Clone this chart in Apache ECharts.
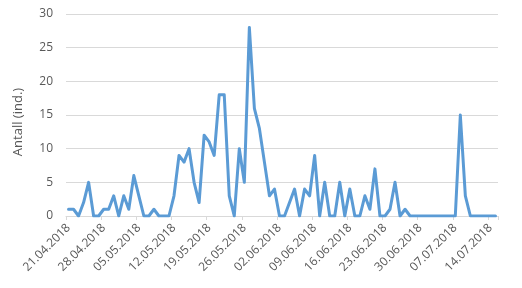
<!DOCTYPE html>
<html>
<head>
<meta charset="utf-8">
<script src="https://cdn.jsdelivr.net/npm/echarts@6/dist/echarts.min.js"></script>
<style>html,body{margin:0;padding:0;background:#fff}#c{width:522px;height:288px}</style>
</head>
<body>
<div id="c"></div>
<script>
// Categories: consecutive days starting 21.04.2018
const startDate = [2018, 3, 21];
const dayCount = 86;
const categories = [];
for (let i = 0; i < dayCount; i++) {
  const d = new Date(Date.UTC(startDate[0], startDate[1], startDate[2] + i));
  const dd = String(d.getUTCDate()).padStart(2, '0');
  const mm = String(d.getUTCMonth() + 1).padStart(2, '0');
  categories.push(dd + '.' + mm + '.' + d.getUTCFullYear());
}
// Antall (ind.) per day
const counts = [
  1, 1, 0, 2, 5, 0, 0, 1, 1, 3,
  0, 3, 1, 6, 3, 0, 0, 1, 0, 0,
  0, 3, 9, 8, 10, 5, 2, 12, 11, 9,
  18, 18, 3, 0, 10, 5, 28, 16, 13, 8,
  3, 4, 0, 0, 2, 4, 0, 4, 3, 9,
  0, 5, 0, 0, 5, 0, 4, 0, 0, 3,
  1, 7, 0, 0, 1, 5, 0, 1, 0, 0,
  0, 0, 0, 0, 0, 0, 0, 0, 15, 3,
  0, 0, 0, 0, 0, 0
];
const yTicks = { min: 0, max: 30, interval: 5 };
const yName = 'Antall (ind.)';

const font = '"Open Sans", "Liberation Sans", sans-serif';
const chart = echarts.init(document.getElementById('c'), null, { renderer: 'canvas' });
chart.setOption({
  animation: false,
  backgroundColor: '#ffffff',
  grid: { left: 66, top: 14, width: 432, height: 202, containLabel: false },
  xAxis: {
    type: 'category',
    data: categories,
    boundaryGap: true,
    axisLine: { show: true, lineStyle: { color: '#d9d9d9', width: 1 } },
    axisTick: { show: true, interval: 6, length: 4, lineStyle: { color: '#d9d9d9' } },
    axisLabel: { interval: 6, rotate: 45, margin: 10, color: '#595959', fontSize: 12, fontFamily: font },
    splitLine: { show: false }
  },
  yAxis: {
    type: 'value',
    min: yTicks.min, max: yTicks.max, interval: yTicks.interval,
    name: yName,
    nameLocation: 'middle',
    nameRotate: 90,
    nameGap: 41,
    nameTextStyle: { color: '#595959', fontSize: 13, fontFamily: font, padding: [0, 14, 0, 0] },
    axisLine: { show: false },
    axisTick: { show: false },
    axisLabel: { color: '#595959', fontSize: 12, fontFamily: font, margin: 13 },
    splitLine: { show: true, lineStyle: { color: '#d9d9d9', width: 1 } }
  },
  series: [{
    type: 'line',
    data: counts,
    showSymbol: false,
    symbol: 'none',
    lineStyle: { color: '#5b9bd5', width: 3, join: 'round', cap: 'round' },
    itemStyle: { color: '#5b9bd5' }
  }]
});
</script>
</body>
</html>
